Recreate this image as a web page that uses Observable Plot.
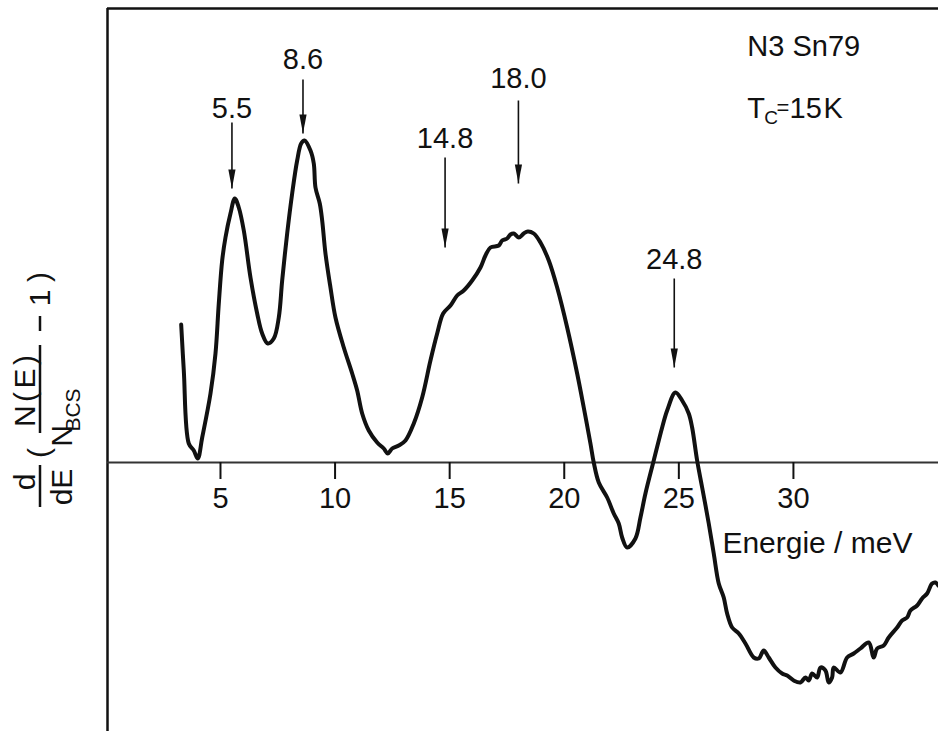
<!DOCTYPE html>
<html>
<head>
<meta charset="utf-8">
<script src="https://cdn.jsdelivr.net/npm/d3@7"></script>
<script src="https://cdn.jsdelivr.net/npm/@observablehq/plot@0.6"></script>
<style>
  body { margin: 0; background: #fff; }
  #chart svg { display: block; }
</style>
</head>
<body>
<div id="chart"></div>
<script>
// Tunneling spectrum derivative, N3Sn79 (Tc = 15 K): energy in meV, signal in arbitrary units
const energy = [
  3.285, 3.399, 3.617, 3.835, 4.010, 4.202, 4.564, 4.782, 4.926, 5.074, 5.218, 5.436,
  5.624, 5.798, 6.017, 6.309, 6.601, 6.819, 7.064, 7.326, 7.544, 7.692, 7.910, 8.128,
  8.346, 8.521, 8.665, 8.927, 9.071, 9.145, 9.332, 9.437, 9.581, 9.799, 10.017, 10.380,
  10.746, 10.964, 11.182, 11.470, 11.837, 12.125, 12.299, 12.491, 12.779, 13.072, 13.434,
  13.800, 14.162, 14.455, 14.716, 15.035, 15.327, 15.615, 15.982, 16.344, 16.562, 16.780,
  17.142, 17.291, 17.509, 17.653, 17.797, 18.015, 18.233, 18.408, 18.669, 18.962, 19.325,
  19.691, 20.127, 20.563, 20.851, 21.143, 21.287, 21.506, 21.872, 22.160, 22.378, 22.526,
  22.745, 23.106, 23.325, 23.543, 23.905, 24.272, 24.490, 24.852, 25.144, 25.432, 25.580,
  25.798, 26.017, 26.305, 26.523, 26.741, 26.959, 27.107, 27.326, 27.614, 27.906, 28.268,
  28.486, 28.704, 28.922, 29.215, 29.507, 29.725, 30.013, 30.305, 30.524, 30.668, 30.816,
  31.034, 31.178, 31.396, 31.540, 31.688, 31.758, 32.051, 32.343, 32.631, 32.923, 33.285,
  33.503, 33.652, 33.940, 34.158, 34.525, 34.743, 34.961, 35.105, 35.398, 35.616, 35.834,
  36.051, 36.195, 36.326
];
const signal = [
  13.8, 9.2, 1.9, 1.2, 0.4, 2.5, 6.9, 10.9, 15.9, 20.2, 22.5, 24.9,
  26.4, 25.5, 23.2, 18.5, 14.9, 12.9, 11.9, 12.4, 14.5, 18.2, 22.9, 26.9,
  30.2, 31.9, 32.2, 31.2, 29.9, 27.5, 25.9, 24.2, 20.9, 17.5, 14.5, 11.5,
  8.9, 7.2, 4.9, 3.2, 2.0, 1.4, 0.9, 1.4, 1.7, 2.2, 3.9,
  6.5, 10.2, 12.9, 14.9, 15.7, 16.7, 17.2, 18.2, 19.5, 20.7, 21.5,
  21.7, 22.2, 22.4, 22.8, 22.9, 22.5, 22.9, 23.1, 22.9, 22.0, 20.2,
  17.5, 13.5, 8.9, 5.5, 1.9, 0.0, -2.0, -3.5, -5.1, -6.1, -7.5,
  -8.5, -7.6, -5.5, -3.1, 0.2, 3.5, 5.2, 7.0, 6.2, 4.9, 3.5,
  0.2, -2.5, -6.1, -9.1, -12.1, -13.5, -15.1, -16.5, -17.1, -18.1, -19.5,
  -19.6, -18.8, -19.5, -20.5, -21.1, -21.3, -21.8, -22.0, -21.5, -21.8, -21.1,
  -21.5, -20.5, -20.8, -22.0, -21.5, -20.5, -21.0, -19.5, -19.1, -18.6, -18.0,
  -19.5, -18.6, -18.3, -17.5, -16.5, -15.8, -15.5, -14.8, -14.3, -13.6, -13.1,
  -12.1, -12.0, -12.3
];

// Energy axis ticks (meV)
const xTicks = [5, 10, 15, 20, 25, 30];

// Marked structures: energy, label, arrow start, arrow tip, label baseline level
const peakEnergy = [5.5, 8.6, 14.8, 18.0, 24.8];
const peakLabel = ["5.5", "8.6", "14.8", "18.0", "24.8"];
const arrowTop = [34.0, 38.3, 30.5, 36.2, 18.4];
const arrowTip = [27.4, 32.9, 21.5, 27.9, 9.5];
const labelLevel = [34.5, 39.4, 31.5, 37.5, 19.4];

// Free-standing notes inside the plot
const noteText = ["N3 Sn79", "T", "C", "=", "15", "K", "Energie / meV"];
const noteEnergy = [27.99, 27.99, 28.73, 29.26, 29.83, 31.31, 26.90];
const noteLevel = [40.7, 34.5, 33.9, 34.8, 34.5, 34.5, -9.0];
const noteSize = [29, 29, 19, 22, 29, 29, 30];

const xDomain = [0.07, 36.33];
const yDomain = [-26.9, 45.4];

const curve = energy.map((e, i) => ({e, s: signal[i]}));
const peaks = peakEnergy.map((e, i) => ({
  e, label: peakLabel[i], top: arrowTop[i], tip: arrowTip[i], lab: labelLevel[i]
}));
const notes = noteText.map((t, i) => ({
  t, e: noteEnergy[i], v: noteLevel[i], size: noteSize[i]
}));

// Slim filled arrowhead with its tip at the symbol origin, pointing down
const arrowHead = {
  draw(context) {
    context.moveTo(0, 0);
    context.lineTo(-3.6, -19);
    context.lineTo(3.6, -19);
    context.closePath();
  }
};

const ink = "#111";

const svg = Plot.plot({
  width: 938,
  height: 731,
  marginLeft: 107,
  marginRight: 0,
  marginTop: 8,
  marginBottom: 0,
  style: {fontFamily: "'Liberation Sans', Arial, sans-serif", background: "white", color: ink},
  x: {domain: xDomain, axis: null},
  y: {domain: yDomain, axis: null},
  marks: [
    // frame: top and left edges
    Plot.ruleY([yDomain[1]], {stroke: ink, strokeWidth: 2.5}),
    Plot.ruleX([xDomain[0]], {stroke: ink, strokeWidth: 2.5}),
    // energy axis through zero
    Plot.ruleY([0], {stroke: "#333", strokeWidth: 2}),
    Plot.ruleX(xTicks, {x: d => d, y1: 0, y2: 0, insetBottom: -17, stroke: ink, strokeWidth: 2}),
    Plot.text(xTicks, {x: d => d, y: 0, text: d => String(d), dy: 25, lineAnchor: "top", fontSize: 29, fill: ink}),
    // spectrum
    Plot.line(curve, {x: "e", y: "s", stroke: ink, strokeWidth: 4, curve: "catmull-rom", strokeLinejoin: "round", strokeLinecap: "round"}),
    // peak arrows and labels
    Plot.link(peaks, {x1: "e", x2: "e", y1: "top", y2: "tip", stroke: ink, strokeWidth: 1.6}),
    Plot.dot(peaks, {x: "e", y: "tip", symbol: arrowHead, fill: ink}),
    Plot.text(peaks, {x: "e", y: "lab", text: "label", lineAnchor: "bottom", fontSize: 29, fill: ink}),
    // notes
    Plot.text(notes, {x: "e", y: "v", text: "t", textAnchor: "start", lineAnchor: "bottom", fontSize: d => d.size, fill: ink})
  ]
});

document.getElementById("chart").appendChild(svg);

// Rotated ordinate label: d/dE ( N(E)/N_BCS − 1 )
const g = d3.select(svg).append("g")
  .attr("transform", "translate(40,0) rotate(-90)")
  .attr("fill", ink)
  .attr("font-family", "'Liberation Sans', Arial, sans-serif")
  .attr("font-size", 30);

const bar = (u1, u2) => g.append("line")
  .attr("x1", u1).attr("x2", u2).attr("y1", 0).attr("y2", 0)
  .attr("stroke", ink).attr("stroke-width", 2.5);

g.append("text").attr("x", -482).attr("y", -5).attr("text-anchor", "middle").text("d");
bar(-507, -465);
g.append("text").attr("x", -487).attr("y", 32).attr("text-anchor", "middle").text("dE");
g.append("text").attr("x", -453).attr("y", 9).attr("text-anchor", "middle").text("(");
g.append("text").attr("x", -391).attr("y", -5).attr("text-anchor", "middle")
  .attr("textLength", 72).attr("lengthAdjust", "spacing").text("N(E)");
bar(-433, -345);
g.append("text").attr("x", -436).attr("y", 32).text("N");
g.append("text").attr("x", -410).attr("y", 40)
  .attr("font-family", "'Liberation Sans Narrow', 'Liberation Sans', Arial, sans-serif")
  .attr("font-size", 21).text("BCS");
bar(-331, -316);
g.append("text").attr("x", -298).attr("y", 10).attr("text-anchor", "middle").text("1");
g.append("text").attr("x", -277).attr("y", 9).attr("text-anchor", "middle").text(")");
</script>
</body>
</html>
